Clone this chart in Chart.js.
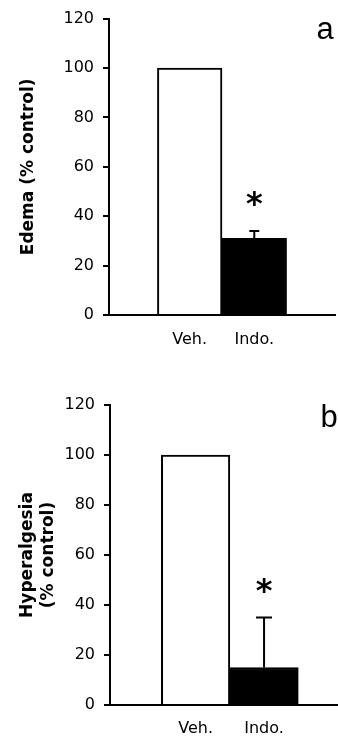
<!DOCTYPE html>
<html>
<head>
<meta charset="utf-8">
<script src="https://cdn.jsdelivr.net/npm/chart.js@4/dist/chart.umd.min.js"></script>
<style>
  body { margin: 0; background: #fff; }
  canvas { display: block; }
</style>
</head>
<body>
<canvas id="edema" width="338" height="370"></canvas>
<canvas id="hyper" width="338" height="371"></canvas>
<script>
const categories = ["Veh.", "Indo."];
const edemaValues = [100, 31];
const edemaErrors = [0, 3];
const hyperValues = [100, 15];
const hyperErrors = [0, 20];
const significance = ["", "*"];
const yTicks = [0, 20, 40, 60, 80, 100, 120];

const tickFont = { family: "DejaVu Sans", size: 16 };

// error bars, asterisks and the panel letter
const barExtras = {
  id: "barExtras",
  afterDatasetsDraw(chart, args, opts) {
    const ctx = chart.ctx;
    const meta = chart.getDatasetMeta(0);
    const y = chart.scales.y;
    ctx.save();
    ctx.strokeStyle = "#000";
    ctx.fillStyle = "#000";
    ctx.lineWidth = 2;
    meta.data.forEach((bar, i) => {
      const err = opts.errors[i];
      if (!err) return;
      const top = y.getPixelForValue(opts.values[i] + err);
      ctx.beginPath();
      ctx.moveTo(bar.x, bar.y);
      ctx.lineTo(bar.x, top);
      ctx.moveTo(bar.x - opts.cap, top);
      ctx.lineTo(bar.x + opts.cap, top);
      ctx.stroke();
      if (significance[i]) {
        ctx.font = 'bold 32px "DejaVu Sans"';
        ctx.textAlign = "center";
        ctx.textBaseline = "alphabetic";
        ctx.fillText(significance[i], bar.x, top - 17);
      }
    });
    ctx.font = '31px "Liberation Sans"';
    ctx.textAlign = "center";
    ctx.textBaseline = "alphabetic";
    ctx.fillText(opts.letter, chart.chartArea.right + opts.letterDx, chart.chartArea.top + opts.letterDy);
    ctx.restore();
  }
};

function makeChart(id, values, errors, title, o) {
  return new Chart(document.getElementById(id), {
    type: "bar",
    data: {
      datasets: [{
        data: values.map((v, i) => ({ x: i, y: v })),
        backgroundColor: ["#fff", "#000"],
        borderColor: "#000",
        borderWidth: 2,
        barPercentage: 1,
        categoryPercentage: 1
      }]
    },
    options: {
      responsive: false,
      animation: false,
      layout: { padding: { top: o.top, right: o.right, left: 0, bottom: 0 } },
      plugins: {
        legend: { display: false },
        tooltip: { enabled: false },
        barExtras: { values, errors, cap: o.cap, letter: o.letter, letterDx: o.letterDx, letterDy: o.letterDy }
      },
      scales: {
        x: {
          type: "linear",
          min: -1.25,
          max: o.xMax,
          offset: false,
          afterBuildTicks: (scale) => { scale.ticks = categories.map((c, i) => ({ value: i })); },
          afterFit: (scale) => { scale.height = o.xHeight; },
          grid: { display: false, offset: false },
          border: { display: true, color: "#000", width: 2 },
          ticks: {
            color: "#000",
            font: tickFont,
            padding: o.xPad,
            maxRotation: 0,
            callback: (v) => categories[v]
          }
        },
        y: {
          min: 0,
          max: 120,
          afterBuildTicks: (scale) => { scale.ticks = yTicks.map((v) => ({ value: v })); },
          afterFit: (scale) => { scale.width = o.yWidth; },
          grid: { drawOnChartArea: false, drawTicks: true, tickLength: 6, color: "#000", lineWidth: 2 },
          border: { display: true, color: "#000", width: 2 },
          ticks: { color: "#000", font: tickFont, padding: 9 },
          title: {
            display: true,
            text: title,
            color: "#000",
            font: { family: "DejaVu Sans", size: 17, weight: "bold", lineHeight: 1.25 },
            padding: { top: o.titlePad, bottom: 0 }
          }
        }
      }
    },
    plugins: [barExtras]
  });
}

makeChart("edema", edemaValues, edemaErrors, "Edema (% control)", {
  top: 18, right: 3, xMax: 2.25, xHeight: 55, xPad: 7, yWidth: 109,
  titlePad: 18, cap: 5, letter: "a", letterDx: -10, letterDy: 20
});

makeChart("hyper", hyperValues, hyperErrors, ["Hyperalgesia", "(% control)"], {
  top: 35, right: 0, xMax: 2.08, xHeight: 36, xPad: 6, yWidth: 110,
  titlePad: 17, cap: 8, letter: "b", letterDx: -9, letterDy: 22
});
</script>
</body>
</html>
